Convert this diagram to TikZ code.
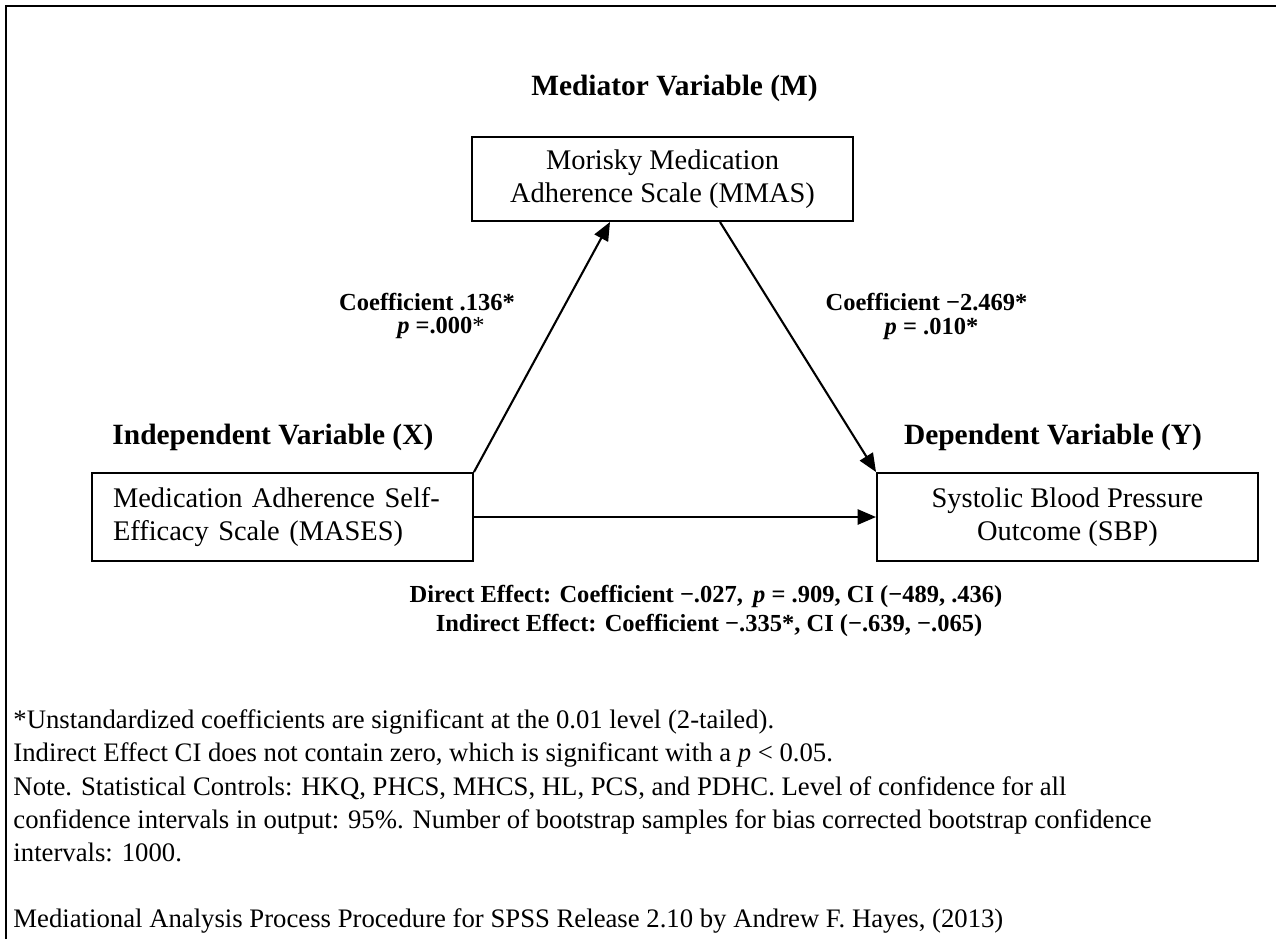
\documentclass[tikz,border=0pt]{standalone}
\usepackage{fontspec}
\setmainfont{Liberation Serif}
\usetikzlibrary{arrows.meta,calc}
\begin{document}
\begin{tikzpicture}[x=0.408pt,y=-0.408pt,
  box/.style={draw,line width=0.8pt,inner sep=0pt,font=\fontsize{11.6}{13.5}\selectfont},
  hd/.style={font=\fontsize{12}{14}\selectfont\bfseries,anchor=base,inner sep=0pt},
  lab/.style={font=\fontsize{10}{12}\selectfont\bfseries,anchor=base,inner sep=0pt},
  note/.style={font=\fontsize{10.9}{13}\selectfont,anchor=base west,inner sep=0pt},
  arr/.style={line width=0.85pt,-{Triangle[length=7.5pt,width=6.2pt]}},
  frame/.style={line width=0.9pt}]
\useasboundingbox (0,0) rectangle (1276,939);
% frame
\coordinate (fbl) at (6,939);
\coordinate (ftl) at (6,6);
\coordinate (ftr) at (1276,6);
\draw[frame] (fbl) -- (ftl) -- (ftr);
% headings
\node[hd] (hM) at (674.5,95) {Mediator Variable (M)};
\node[hd,anchor=base west] (hX) at (112,444) {Independent Variable (X)};
\node[hd] (hY) at (1053,444) {Dependent Variable (Y)};
% boxes
\node[box,align=center,minimum width=381*0.408pt,minimum height=84*0.408pt] (M) at (662.5,179)
  {Morisky Medication\\Adherence Scale (MMAS)};
\node[box,align=left,text width=339*0.408pt,inner xsep=21*0.408pt,minimum height=88*0.408pt] (X) at (282.5,517)
  {Medication Adherence Self-\\Efficacy Scale (MASES)};
\node[box,align=center,minimum width=381*0.408pt,minimum height=88*0.408pt] (Y) at (1067.5,517)
  {Systolic Blood Pressure\\Outcome (SBP)};
% arrows
\draw[arr] (X.north east) -- ([xshift=-52.5*0.408pt]M.south);
\draw[arr] ([xshift=57.5*0.408pt]M.south) -- (Y.north west);
\draw[arr] (X.east) -- (Y.west);
% path labels
\node[lab] (a1) at (427,310) {Coefficient .136*};
\node[lab] (a2) at (441,333) {\textit{p} =.000\textmd{*}};
\node[lab] (b1) at (926.5,310) {Coefficient −2.469*};
\node[lab] (b2) at (931.5,334) {\textit{p} = .010*};
\node[lab] (c1) at (706,602) {Direct Effect: Coefficient −.027,\, \textit{p} = .909, CI (−489, .436)};
\node[lab] (c2) at (709,631) {Indirect Effect: Coefficient −.335*, CI (−.639, −.065)};
% notes
\node[note] (n1) at (13,728) {*Unstandardized coefficients are significant at the 0.01 level (2-tailed).};
\node[note] (n2) at (13,761) {Indirect Effect CI does not contain zero, which is significant with a \textit{p} < 0.05.};
\node[note] (n3) at (13,795) {Note. Statistical Controls: HKQ, PHCS, MHCS, HL, PCS, and PDHC. Level of confidence for all};
\node[note] (n4) at (13,828) {confidence intervals in output: 95\%. Number of bootstrap samples for bias corrected bootstrap confidence};
\node[note] (n5) at (13,861) {intervals: 1000.};
\node[note] (n6) at (13,927) {Mediational Analysis Process Procedure for SPSS Release 2.10 by Andrew F. Hayes, (2013)};
\end{tikzpicture}
\end{document}
